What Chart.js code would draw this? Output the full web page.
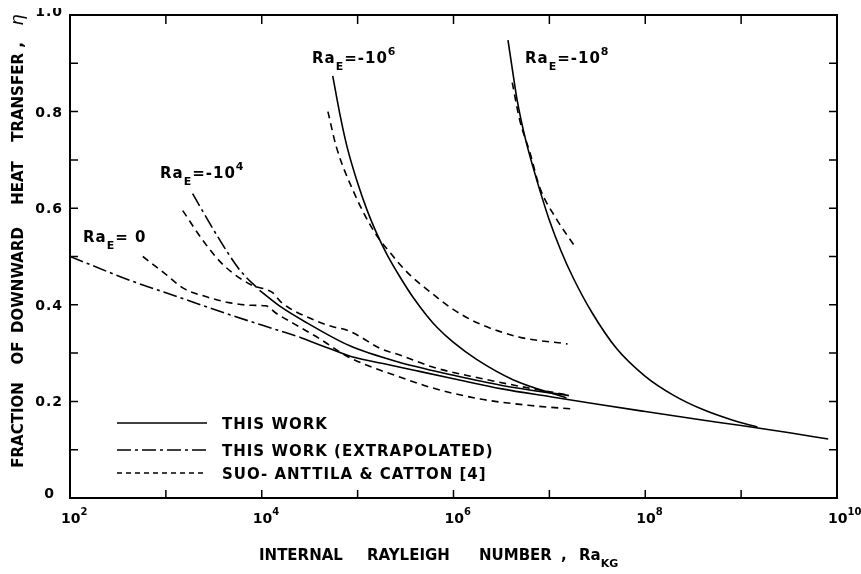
<!DOCTYPE html>
<html>
<head>
<meta charset="utf-8">
<script src="https://cdn.jsdelivr.net/npm/chart.js@4.4.1/dist/chart.umd.min.js"></script>
<style>
  html, body { margin: 0; padding: 0; background: #fff; overflow: hidden; }
  #wrap { width: 861px; height: 574px; }
</style>
</head>
<body>
<div id="wrap"><canvas id="myChart" width="861" height="574"></canvas></div>
<script>
// Ra_KG values (x) and fraction of downward heat transfer (y)

// Ra_E = 0
const ra0ExtX = [100, 430, 1000, 4700, 10000, 25000];
const ra0ExtY = [0.500, 0.450, 0.425, 0.379, 0.358, 0.333];
const ra0X = [25000, 50000, 89000, 2e5, 4e5, 1e6, 3.2e6, 1e7, 3.2e7, 1e8, 3.2e8, 1e9, 3.2e9, 8.1e9];
const ra0Y = [0.333, 0.310, 0.292, 0.277, 0.264, 0.247, 0.226, 0.210, 0.194, 0.179, 0.164, 0.150, 0.135, 0.122];
const ra0SuoX = [575, 1000, 1500, 2500, 4700, 8000, 11000, 14000, 22000, 40000, 80000, 1.7e5, 2.8e5, 6e5, 1.9e6, 6e6, 1.8e7];
const ra0SuoY = [0.500, 0.463, 0.435, 0.418, 0.404, 0.399, 0.398, 0.383, 0.360, 0.330, 0.292, 0.265, 0.250, 0.228, 0.205, 0.192, 0.184];

// Ra_E = -10^4
const ra4ExtX = [1900, 3500, 5900, 9500];
const ra4ExtY = [0.630, 0.540, 0.472, 0.430];
const ra4X = [9500, 16000, 30000, 83000, 2.6e5, 1e6, 3.2e6, 1.6e7];
const ra4Y = [0.430, 0.395, 0.362, 0.315, 0.282, 0.254, 0.233, 0.212];
const ra4SuoX = [1500, 2500, 4000, 8000, 11000, 13000, 16000, 32000, 56000, 74000, 1e5, 1.7e5, 2.75e5, 6.3e5, 1.9e6, 6e6, 1.6e7];
const ra4SuoY = [0.595, 0.530, 0.482, 0.440, 0.432, 0.425, 0.405, 0.372, 0.354, 0.349, 0.337, 0.310, 0.296, 0.270, 0.248, 0.228, 0.213];

// Ra_E = -10^6
const ra6X = [55000, 66000, 77600, 1e5, 1.26e5, 1.58e5, 2.04e5, 2.82e5, 3.8e5, 5.25e5, 6.76e5, 1e6, 1.74e6, 4.17e6, 1.51e7];
const ra6Y = [0.874, 0.790, 0.727, 0.652, 0.595, 0.548, 0.503, 0.455, 0.415, 0.378, 0.353, 0.322, 0.287, 0.245, 0.207];
const ra6SuoX = [49000, 60000, 89000, 1.45e5, 2.2e5, 3.5e5, 5.6e5, 1e6, 1.9e6, 4.9e6, 1.55e7];
const ra6SuoY = [0.800, 0.727, 0.638, 0.555, 0.507, 0.462, 0.428, 0.390, 0.360, 0.333, 0.319];

// Ra_E = -10^8
const ra8X = [3.7e6, 4.2e6, 4.6e6, 5.6e6, 6.8e6, 8.3e6, 1e7, 1.32e7, 1.78e7, 2.8e7, 5e7, 1e8, 2e8, 4e8, 7.9e8, 1.48e9];
const ra8Y = [0.948, 0.875, 0.825, 0.745, 0.683, 0.625, 0.575, 0.512, 0.455, 0.383, 0.310, 0.252, 0.212, 0.183, 0.162, 0.147];
const ra8SuoX = [4.1e6, 4.9e6, 6.3e6, 7.9e6, 1.2e7, 1.8e7];
const ra8SuoY = [0.860, 0.783, 0.714, 0.644, 0.576, 0.524];

// axis ticks and labels
const xTickValues = [1e2, 1e3, 1e4, 1e5, 1e6, 1e7, 1e8, 1e9, 1e10];
const xLabelValues = [1e2, 1e4, 1e6, 1e8, 1e10];
const xLabelExps = ['2', '4', '6', '8', '10'];
const yTickValues = [0, 0.1, 0.2, 0.3, 0.4, 0.5, 0.6, 0.7, 0.8, 0.9, 1.0];
const yLabelValues = [0, 0.2, 0.4, 0.6, 0.8, 1.0];
const yLabels = ['0', '0.2', '0.4', '0.6', '0.8', '1.0'];

const legendLabels = ['THIS WORK', 'THIS WORK (EXTRAPOLATED)', 'SUO- ANTTILA & CATTON [4]'];

const SOLID = [];
const DASHDOT = [14, 4, 3, 4];
const DASHED = [7, 5];

function pts(xs, ys) {
  return xs.map((x, i) => ({ x: x, y: ys[i] }));
}

function line(xs, ys, dash) {
  return {
    data: pts(xs, ys),
    showLine: true,
    borderColor: '#000',
    borderWidth: 1.6,
    borderDash: dash,
    pointRadius: 0,
    cubicInterpolationMode: 'monotone',
    fill: false
  };
}

const FONT = '"DejaVu Sans", sans-serif';

function drawParts(ctx, x, y, parts, size, small) {
  // parts: [text, 'n' | 'sub' | 'sup']
  let cx = x;
  const fsSmall = small || Math.round(size * 0.75);
  parts.forEach(([txt, kind]) => {
    let fs = size, dy = 0;
    if (kind === 'sub') { fs = fsSmall; dy = 7; }
    if (kind === 'sup') { fs = fsSmall; dy = -8; }
    ctx.font = 'bold ' + fs + 'px ' + FONT;
    ctx.fillText(txt, cx, y + dy);
    cx += ctx.measureText(txt).width;
  });
}

const decor = {
  id: 'decor',
  afterDraw(chart) {
    const { ctx, chartArea: a, scales } = chart;
    const xs = scales.x, ys = scales.y;
    ctx.save();
    ctx.fillStyle = '#000';
    ctx.strokeStyle = '#000';
    ctx.setLineDash([]);

    // frame
    ctx.lineWidth = 2;
    ctx.strokeRect(a.left, a.top, a.right - a.left, a.bottom - a.top);

    // inward ticks
    ctx.lineWidth = 1.5;
    ctx.beginPath();
    xTickValues.forEach(v => {
      const px = xs.getPixelForValue(v);
      ctx.moveTo(px, a.bottom); ctx.lineTo(px, a.bottom - 8);
      ctx.moveTo(px, a.top); ctx.lineTo(px, a.top + 9);
    });
    yTickValues.forEach(v => {
      const py = ys.getPixelForValue(v);
      ctx.moveTo(a.left, py); ctx.lineTo(a.left + 8, py);
      ctx.moveTo(a.right, py); ctx.lineTo(a.right - 8, py);
    });
    ctx.stroke();

    ctx.textBaseline = 'alphabetic';
    ctx.letterSpacing = '0px';

    // x tick labels 10^n
    ctx.textAlign = 'left';
    xLabelValues.forEach((v, i) => {
      const px = xs.getPixelForValue(v);
      drawParts(ctx, px - 9, a.bottom + 25, [['10', 'n'], [xLabelExps[i], 'sup']], 14, 10);
    });

    // y tick labels
    ctx.letterSpacing = '1px';
    ctx.font = 'bold 14px ' + FONT;
    ctx.textAlign = 'right';
    yLabelValues.forEach((v, i) => {
      const py = ys.getPixelForValue(v);
      if (v === 1.0) {
        ctx.save();
        ctx.beginPath();
        ctx.rect(0, 8, 70, 20);
        ctx.clip();
        ctx.fillText(yLabels[i], 63, py + 1);
        ctx.restore();
      } else if (v === 0) {
        ctx.fillText(yLabels[i], 55, py);
      } else {
        ctx.fillText(yLabels[i], 63, py + 5);
      }
    });

    // x axis title
    ctx.letterSpacing = '0px';
    ctx.textAlign = 'left';
    ctx.font = 'bold 15px ' + FONT;
    ctx.fillText('INTERNAL', 259, 560);
    ctx.fillText('RAYLEIGH', 367, 560);
    ctx.fillText('NUMBER', 479, 560);
    ctx.fillText(',', 561, 560);
    drawParts(ctx, 579, 560, [['Ra', 'n'], ['KG', 'sub']], 15);

    // y axis title (rotated)
    ctx.save();
    ctx.translate(23, 0);
    ctx.rotate(-Math.PI / 2);
    ctx.textAlign = 'center';
    ctx.font = 'bold 15px ' + FONT;
    ctx.fillText('FRACTION', -425, 0);
    ctx.fillText('OF', -353, 0);
    ctx.fillText('DOWNWARD', -280, 0);
    ctx.fillText('HEAT', -183, 0);
    ctx.fillText('TRANSFER ,', -92, 0);
    ctx.font = 'italic 18px ' + FONT;
    ctx.fillText('\u03B7', -20, 0);
    ctx.restore();

    // curve labels
    ctx.letterSpacing = '1px';
    ctx.textAlign = 'left';
    drawParts(ctx, 83, 242, [['Ra', 'n'], ['E', 'sub'], ['= 0', 'n']], 15);
    drawParts(ctx, 160, 178, [['Ra', 'n'], ['E', 'sub'], ['=-10', 'n'], ['4', 'sup']], 15);
    drawParts(ctx, 312, 63, [['Ra', 'n'], ['E', 'sub'], ['=-10', 'n'], ['6', 'sup']], 15);
    drawParts(ctx, 525, 63, [['Ra', 'n'], ['E', 'sub'], ['=-10', 'n'], ['8', 'sup']], 15);

    // legend
    const rows = [SOLID, DASHDOT, [5, 4]];
    const rowY = [423, 450, 473];
    ctx.lineWidth = 1.6;
    rows.forEach((d, i) => {
      ctx.setLineDash(d);
      ctx.beginPath();
      ctx.moveTo(117, rowY[i]);
      ctx.lineTo(207, rowY[i]);
      ctx.stroke();
    });
    ctx.setLineDash([]);
    ctx.font = 'bold 15px ' + FONT;
    legendLabels.forEach((t, i) => {
      ctx.fillText(t, 222, rowY[i] + 6);
    });

    ctx.restore();
  }
};

const ctx = document.getElementById('myChart').getContext('2d');
const myChart = new Chart(ctx, {
  type: 'scatter',
  data: {
    datasets: [
      line(ra0ExtX, ra0ExtY, DASHDOT),
      line(ra0X, ra0Y, SOLID),
      line(ra0SuoX, ra0SuoY, DASHED),
      line(ra4ExtX, ra4ExtY, DASHDOT),
      line(ra4X, ra4Y, SOLID),
      line(ra4SuoX, ra4SuoY, DASHED),
      line(ra6X, ra6Y, SOLID),
      line(ra6SuoX, ra6SuoY, DASHED),
      line(ra8X, ra8Y, SOLID),
      line(ra8SuoX, ra8SuoY, DASHED)
    ]
  },
  options: {
    responsive: false,
    animation: false,
    devicePixelRatio: 1,
    layout: { padding: { left: 70, right: 24, top: 15, bottom: 76 } },
    scales: {
      x: { type: 'logarithmic', min: 1e2, max: 1e10, display: false },
      y: { type: 'linear', min: 0, max: 1, display: false }
    },
    plugins: {
      legend: { display: false },
      tooltip: { enabled: false }
    }
  },
  plugins: [decor]
});
</script>
</body>
</html>
